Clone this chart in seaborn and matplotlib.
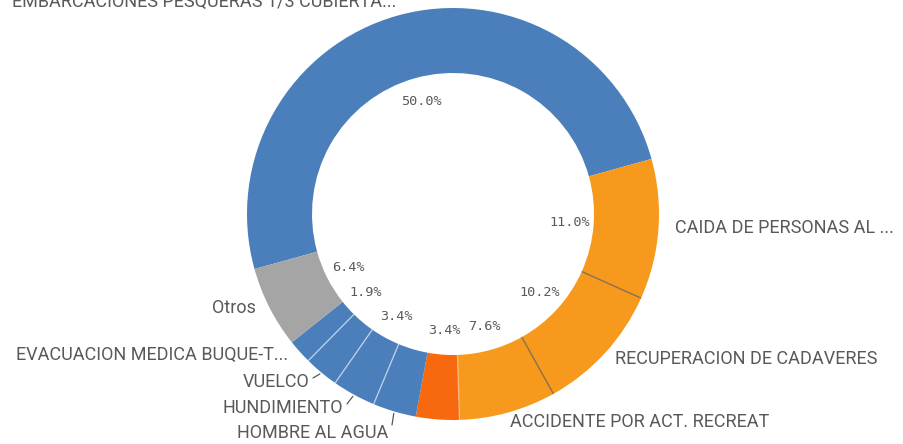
import numpy as np
import matplotlib
matplotlib.use("Agg")
import matplotlib.pyplot as plt
import seaborn as sns

# ---- data ----
categories = [
    "EMBARCACIONES PESQUERAS 1/3 CUBIERTA...",
    "CAIDA DE PERSONAS AL ...",
    "RECUPERACION DE CADAVERES",
    "ACCIDENTE POR ACT. RECREAT",
    "",
    "HOMBRE AL AGUA",
    "HUNDIMIENTO",
    "VUELCO",
    "EVACUACION MEDICA BUQUE-T...",
    "Otros",
]
values = [50.0, 11.0, 10.2, 7.6, 3.4, 3.4, 3.4, 2.7, 1.9, 6.4]
show_pct = [True, True, True, True, True, False, True, False, True, True]

# ---- styles ----
BLUE = "#4a7fbb"
ORANGE = "#f7991d"
RED_OR = "#f8680e"
GRAY = "#a5a5a5"
colors = [BLUE, ORANGE, ORANGE, ORANGE, RED_OR, BLUE, BLUE, BLUE, BLUE, GRAY]
TXT = "#595959"

W, H = 904, 444
CX, CY = 453, H - 214
R_OUT, RING = 206, 65
START = 195.5

sns.set_theme(style="white")
plt.rcParams["font.family"] = ["Roboto", "DejaVu Sans"]

fig = plt.figure(figsize=(W / 100, H / 100), dpi=100)
ax = fig.add_axes([0, 0, 1, 1])

wedges, _ = ax.pie(values, colors=colors, startangle=START, counterclock=False,
                   center=(CX, CY), radius=R_OUT,
                   wedgeprops=dict(width=RING, linewidth=0))
ax.set_xlim(0, W)
ax.set_ylim(0, H)
ax.set_aspect("equal")
ax.axis("off")

total = sum(values)
cum = np.cumsum([0] + values)
bounds = START - 360 * cum / total
mids = (bounds[:-1] + bounds[1:]) / 2
r_in = R_OUT - RING

# separators between same-colour neighbours
for i in range(1, len(values)):
    a = np.deg2rad(bounds[i])
    c0, c1 = colors[i - 1], colors[i]
    if c0 == c1 == BLUE:
        col, alpha = "white", 0.55
    elif c0 == c1 == ORANGE:
        col, alpha = "#7d6b52", 0.9
    elif {c0, c1} == {ORANGE, RED_OR}:
        col, alpha = "#f5c48a", 0.8
    else:
        continue
    ax.plot([CX + r_in * np.cos(a), CX + R_OUT * np.cos(a)],
            [CY + r_in * np.sin(a), CY + R_OUT * np.sin(a)],
            color=col, lw=1.0, alpha=alpha, solid_capstyle="butt")

# percentage labels inside the hole
for v, m, s in zip(values, mids, show_pct):
    if not s:
        continue
    a = np.deg2rad(m)
    ax.text(CX + 117 * np.cos(a), CY + 117 * np.sin(a), f"{v:.1f}%",
            ha="center", va="center", fontsize=9.7, color=TXT,
            family=["DejaVu Sans Mono"])

# outer labels: (x, y in image px, ha, leader start or None)
layout = {
    0: (396, 2, "right", None),
    1: (675, 228, "left", None),
    2: (615, 359, "left", None),
    3: (510, 422, "left", None),
    5: (388, 433, "right", (392, 425)),
    6: (343, 408, "right", (347, 404)),
    7: (310, 382, "right", (313, 378)),
    8: (288, 355, "right", None),
    9: (256, 308, "right", None),
}
for i, (x, y, ha, lead) in layout.items():
    ax.text(x, H - y, categories[i], ha=ha, va="center", fontsize=13,
            color=TXT)
    if lead is not None:
        a = np.deg2rad(mids[i])
        ex, ey = CX + (R_OUT + 2) * np.cos(a), CY + (R_OUT + 2) * np.sin(a)
        ax.plot([lead[0], ex], [H - lead[1], ey], color=TXT, lw=0.9)

fig.savefig("out.png", dpi=100)
